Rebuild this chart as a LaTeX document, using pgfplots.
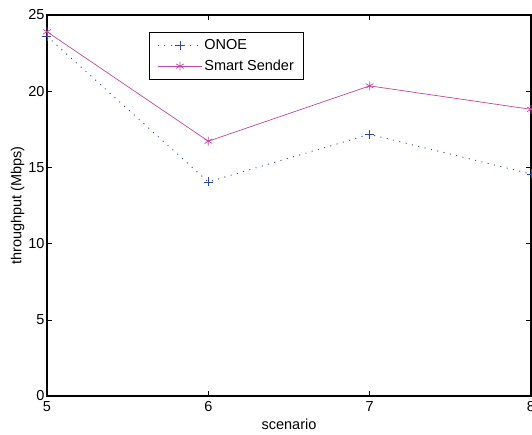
\documentclass[border=0pt]{standalone}
\usepackage{pgfplots}
\pgfplotsset{compat=1.18}
\usepackage{fontspec}
\setmainfont{Liberation Sans}
\definecolor{onoe}{RGB}{45,70,170}
\definecolor{smart}{RGB}{190,70,160}
\begin{document}
\begin{tikzpicture}
\begin{axis}[
  scale only axis,
  width=484pt, height=381pt,
  xmin=5, xmax=8, ymin=0, ymax=25,
  xtick={5,6,7,8}, ytick={0,5,10,15,20,25},
  tick align=inside, tickpos=both,
  major tick length=5pt,
  tick style={black, line width=0.6pt},
  axis line style={black, line width=1.2pt},
  /pgf/number format/assume math mode=true,
  tick label style={font=\fontsize{14.5}{16}\selectfont},
  label style={font=\fontsize{14.5}{16}\selectfont},
  xlabel={scenario}, ylabel={throughput (Mbps)},
  xlabel style={yshift=0pt},
  ylabel style={yshift=-3pt},
  xticklabel style={yshift=-2pt},
  yticklabel style={xshift=1pt},
  legend style={at={(0.211,0.955)}, anchor=north west, draw=black, line width=0.8pt,
    font=\fontsize{14.5}{16}\selectfont, inner xsep=8pt, inner ysep=5pt, row sep=5pt,
    /tikz/every even column/.append style={column sep=5pt}},
  legend cell align=left,
  legend image code/.code={
    \draw[mark repeat=2,mark phase=2,#1] plot coordinates {(0pt,0pt) (22pt,0pt) (44pt,0pt)};},
]
\addplot[color=onoe, dash pattern=on 1pt off 5.5pt, line width=0.9pt, mark=+, mark size=4.5pt, mark options={solid, line width=0.7pt, color=onoe}]
  coordinates {(5,23.6) (6,14.05) (7,17.17) (8,14.57)};
\addlegendentry{ONOE}
\addplot[color=smart, line width=0.7pt, mark=asterisk, mark size=4.5pt, mark options={solid, line width=0.7pt}]
  coordinates {(5,23.9) (6,16.72) (7,20.35) (8,18.81)};
\addlegendentry{Smart Sender}
\end{axis}
\pgfresetboundingbox
\path[use as bounding box] ([xshift=-47pt,yshift=-38pt]current axis.south west) rectangle ([xshift=1pt,yshift=15pt]current axis.north east);
\end{tikzpicture}
\end{document}
